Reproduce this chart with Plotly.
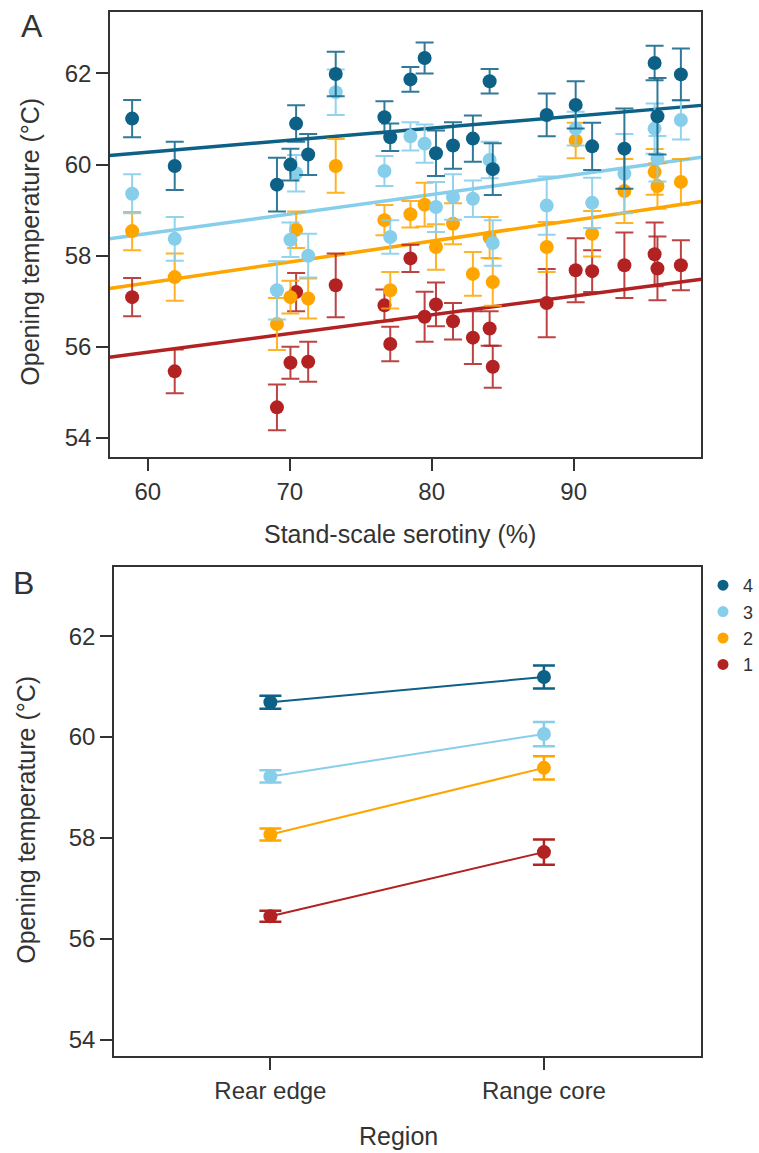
import plotly.graph_objects as go

# ---------------- Data ----------------
# Panel A: stand-scale serotiny (%) per site
serotiny = [58.9, 61.9, 69.1, 70.05, 70.45, 71.3, 73.24, 76.67, 77.08, 78.5, 79.5, 80.3,
            81.5, 82.9, 84.08, 84.3, 88.1, 90.14, 91.3, 93.57, 95.7, 95.9, 97.55]

temp_4 = [61.01, 59.97, 59.56, 60.0, 60.9, 60.22, 61.99, 61.04, 60.6, 61.87, 62.34, 60.25,
          60.42, 60.57, 61.83, 59.9, 61.09, 61.31, 60.4, 60.35, 62.23, 61.06, 61.98]
err_4 = [0.41, 0.53, 0.59, 0.35, 0.40, 0.45, 0.49, 0.35, 0.30, 0.27, 0.34, 0.50,
         0.51, 0.51, 0.27, 0.57, 0.47, 0.52, 0.52, 0.88, 0.38, 0.84, 0.57]

temp_3 = [59.36, 58.37, 57.24, 58.35, 59.81, 58.0, 61.59, 59.86, 58.41, 60.62, 60.46, 59.07,
          59.29, 59.25, 60.1, 58.28, 59.1, 60.79, 59.16, 59.8, 60.79, 60.13, 60.98]
err_3 = [0.43, 0.48, 0.64, 0.38, 0.40, 0.48, 0.50, 0.33, 0.37, 0.31, 0.42, 0.55,
         0.50, 0.40, 0.40, 0.50, 0.64, 0.37, 0.55, 0.87, 0.55, 0.50, 0.43]

temp_2 = [58.54, 57.53, 56.5, 57.09, 58.57, 57.06, 59.97, 58.78, 57.24, 58.91, 59.12, 58.19,
          58.7, 57.6, 58.4, 57.42, 58.19, 60.53, 58.48, 59.42, 59.84, 59.53, 59.62]
err_2 = [0.42, 0.52, 0.57, 0.36, 0.40, 0.44, 0.59, 0.33, 0.40, 0.29, 0.48, 0.50,
         0.45, 0.48, 0.45, 0.52, 0.55, 0.39, 0.50, 0.70, 0.50, 0.50, 0.50]

temp_1 = [57.09, 55.46, 54.67, 55.65, 57.2, 55.67, 57.35, 56.91, 56.06, 57.94, 56.66, 56.93,
          56.56, 56.2, 56.4, 55.56, 56.96, 57.68, 57.66, 57.79, 58.03, 57.72, 57.79]
err_1 = [0.42, 0.48, 0.50, 0.35, 0.42, 0.44, 0.70, 0.35, 0.38, 0.30, 0.55, 0.48,
         0.40, 0.58, 0.38, 0.46, 0.75, 0.70, 0.46, 0.72, 0.70, 0.70, 0.55]

# fitted lines (values at the ends of the x range)
fit_x = [57.3, 99.0]
fit_4 = [60.2, 61.3]
fit_3 = [58.37, 60.16]
fit_2 = [57.28, 59.19]
fit_1 = [55.77, 57.48]

# Panel B: region means
regions = ["Rear edge", "Range core"]
region_pos = [0, 1]
mean_4 = [60.69, 61.19]
se_4 = [0.13, 0.23]
mean_3 = [59.22, 60.06]
se_3 = [0.12, 0.24]
mean_2 = [58.07, 59.39]
se_2 = [0.12, 0.23]
mean_1 = [56.45, 57.72]
se_1 = [0.11, 0.25]

class_names = ["1", "2", "3", "4"]
colors = {"1": "#b22222", "2": "#ffa500", "3": "#87ceeb", "4": "#0d6186"}
bar_colors = {"1": "rgba(178,34,34,0.85)", "2": "rgba(255,165,0,0.85)",
              "3": "rgba(135,206,235,0.9)", "4": "rgba(13,97,134,0.85)"}

series_A = {"1": (temp_1, err_1, fit_1), "2": (temp_2, err_2, fit_2),
            "3": (temp_3, err_3, fit_3), "4": (temp_4, err_4, fit_4)}
series_B = {"1": (mean_1, se_1), "2": (mean_2, se_2),
            "3": (mean_3, se_3), "4": (mean_4, se_4)}

W, H = 759, 1153
FONT = "Liberation Sans, Arial, Helvetica, sans-serif"
TXT = "#333333"

fig = go.Figure()

# ---------------- Panel A ----------------
for c in class_names:
    t, e, f = series_A[c]
    fig.add_trace(go.Scatter(
        x=fit_x, y=f, mode="lines", line=dict(color=colors[c], width=3.5),
        xaxis="x", yaxis="y", showlegend=False, hoverinfo="skip"))
for c in class_names:
    t, e, f = series_A[c]
    fig.add_trace(go.Scatter(
        x=serotiny, y=t, mode="markers",
        marker=dict(color=colors[c], size=14),
        error_y=dict(type="data", array=e, visible=True, color=bar_colors[c],
                     thickness=2, width=9),
        xaxis="x", yaxis="y", showlegend=False))

# ---------------- Panel B ----------------
for c in class_names:
    m, s = series_B[c]
    fig.add_trace(go.Scatter(
        x=region_pos, y=m, mode="lines+markers",
        line=dict(color=colors[c], width=2),
        marker=dict(color=colors[c], size=14),
        error_y=dict(type="data", array=s, visible=True, color=colors[c],
                     thickness=2.5, width=11),
        xaxis="x2", yaxis="y2", showlegend=False))
    # legend entry (markers only)
    fig.add_trace(go.Scatter(
        x=[None], y=[None], mode="markers",
        marker=dict(color=colors[c], size=11),
        xaxis="x2", yaxis="y2", name=c, showlegend=True,
        legendrank=10 - int(c)))

axis_common = dict(showline=True, linecolor="#333333", linewidth=1.5, mirror=True,
                   ticks="outside", ticklen=12, tickwidth=1.5, tickcolor="#333333",
                   showgrid=False, zeroline=False,
                   tickfont=dict(family=FONT, size=24, color=TXT))

fig.update_layout(
    width=W, height=H,
    margin=dict(l=0, r=0, t=0, b=0),
    paper_bgcolor="white", plot_bgcolor="white",
    font=dict(family=FONT, color=TXT),
    xaxis=dict(domain=[111 / W, 708 / W], range=[57.34, 99.0],
               tickvals=[60, 70, 80, 90], anchor="y", **axis_common),
    yaxis=dict(domain=[1 - 457 / H, 1 - 12 / H], range=[53.58, 63.35],
               tickvals=[54, 56, 58, 60, 62], anchor="x", **axis_common),
    xaxis2=dict(domain=[115 / W, 708 / W], range=[-0.572, 1.576],
                tickvals=region_pos, ticktext=regions, anchor="y2", **axis_common),
    yaxis2=dict(domain=[1 - 1056 / H, 1 - 567 / H], range=[53.68, 63.37],
                tickvals=[54, 56, 58, 60, 62], anchor="x2", **axis_common),
    legend=dict(x=710 / W, y=1 - 567 / H, xanchor="left", yanchor="top",
                font=dict(family=FONT, size=18, color=TXT),
                bgcolor="rgba(0,0,0,0)", tracegroupgap=0),
    showlegend=True,
)

def ann(text, x, y, size, angle=0):
    fig.add_annotation(text=text, x=x / W, y=1 - y / H, xref="paper", yref="paper",
                       showarrow=False, textangle=angle, xanchor="center", yanchor="middle",
                       font=dict(family=FONT, size=size, color=TXT))

ann("Opening temperature (°C)", 30, 242, 25, -90)
ann("Stand-scale serotiny (%)", 404, 534, 25)
ann("Opening temperature (°C)", 26, 820, 25, -90)
ann("Region", 402, 1136, 25)
ann("A", 32, 26, 32)
ann("B", 24, 583, 32)

fig.write_html("out.html",
               config={"displayModeBar": False},
               post_script="document.body.style.margin='0';document.body.style.overflow='hidden';")
